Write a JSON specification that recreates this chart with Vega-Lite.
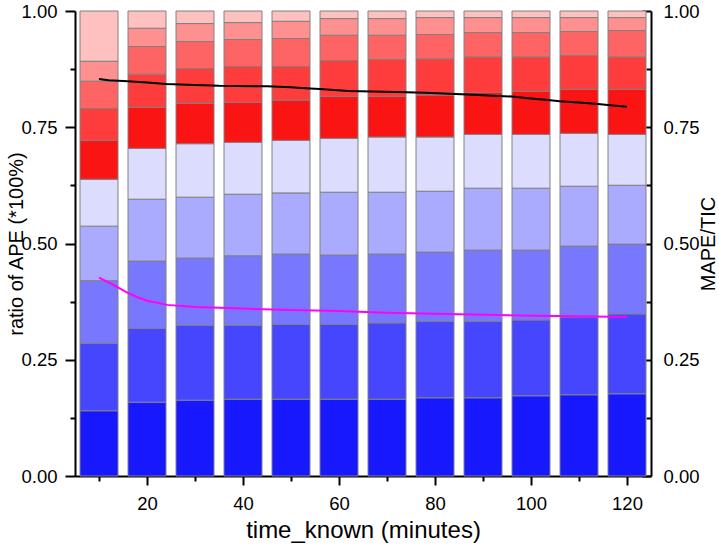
{
  "$schema": "https://vega.github.io/schema/vega-lite/v6.json",
  "width": 576,
  "height": 465,
  "autosize": {"type": "none"},
  "padding": {"left": 75, "top": 11, "right": 68, "bottom": 69},
  "background": "white",
  "config": {
    "view": {"stroke": null},
    "axis": {
      "grid": false,
      "domainColor": "black",
      "domainWidth": 2,
      "tickColor": "black",
      "tickWidth": 2,
      "labelFont": "Liberation Sans",
      "labelFontSize": 18.5,
      "labelColor": "black",
      "titleFont": "Liberation Sans",
      "titleColor": "black",
      "titleFontWeight": "normal",
      "labelFlush": false,
      "labelOverlap": false,
      "labelBound": false
    }
  },
  "datasets": {
    "bars": [
      {"time":10,"k":1,"ratio":0.1403},{"time":10,"k":2,"ratio":0.1451},{"time":10,"k":3,"ratio":0.1346},{"time":10,"k":4,"ratio":0.1173},{"time":10,"k":5,"ratio":0.1009},{"time":10,"k":6,"ratio":0.0837},{"time":10,"k":7,"ratio":0.0687},{"time":10,"k":8,"ratio":0.0584},{"time":10,"k":9,"ratio":0.0430},{"time":10,"k":10,"ratio":0.1080},
      {"time":20,"k":1,"ratio":0.1588},{"time":20,"k":2,"ratio":0.1588},{"time":20,"k":3,"ratio":0.1446},{"time":20,"k":4,"ratio":0.1331},{"time":20,"k":5,"ratio":0.1094},{"time":20,"k":6,"ratio":0.0880},{"time":20,"k":7,"ratio":0.0715},{"time":20,"k":8,"ratio":0.0594},{"time":20,"k":9,"ratio":0.0393},{"time":20,"k":10,"ratio":0.0371},
      {"time":30,"k":1,"ratio":0.1631},{"time":30,"k":2,"ratio":0.1609},{"time":30,"k":3,"ratio":0.1447},{"time":30,"k":4,"ratio":0.1309},{"time":30,"k":5,"ratio":0.1150},{"time":30,"k":6,"ratio":0.0867},{"time":30,"k":7,"ratio":0.0751},{"time":30,"k":8,"ratio":0.0579},{"time":30,"k":9,"ratio":0.0387},{"time":30,"k":10,"ratio":0.0270},
      {"time":40,"k":1,"ratio":0.1652},{"time":40,"k":2,"ratio":0.1588},{"time":40,"k":3,"ratio":0.1496},{"time":40,"k":4,"ratio":0.1324},{"time":40,"k":5,"ratio":0.1116},{"time":40,"k":6,"ratio":0.0858},{"time":40,"k":7,"ratio":0.0773},{"time":40,"k":8,"ratio":0.0579},{"time":40,"k":9,"ratio":0.0365},{"time":40,"k":10,"ratio":0.0249},
      {"time":50,"k":1,"ratio":0.1652},{"time":50,"k":2,"ratio":0.1610},{"time":50,"k":3,"ratio":0.1511},{"time":50,"k":4,"ratio":0.1315},{"time":50,"k":5,"ratio":0.1131},{"time":50,"k":6,"ratio":0.0865},{"time":50,"k":7,"ratio":0.0723},{"time":50,"k":8,"ratio":0.0601},{"time":50,"k":9,"ratio":0.0371},{"time":50,"k":10,"ratio":0.0221},
      {"time":60,"k":1,"ratio":0.1652},{"time":60,"k":2,"ratio":0.1610},{"time":60,"k":3,"ratio":0.1489},{"time":60,"k":4,"ratio":0.1352},{"time":60,"k":5,"ratio":0.1159},{"time":60,"k":6,"ratio":0.0901},{"time":60,"k":7,"ratio":0.0773},{"time":60,"k":8,"ratio":0.0543},{"time":60,"k":9,"ratio":0.0358},{"time":60,"k":10,"ratio":0.0163},
      {"time":70,"k":1,"ratio":0.1652},{"time":70,"k":2,"ratio":0.1640},{"time":70,"k":3,"ratio":0.1481},{"time":70,"k":4,"ratio":0.1330},{"time":70,"k":5,"ratio":0.1187},{"time":70,"k":6,"ratio":0.0873},{"time":70,"k":7,"ratio":0.0794},{"time":70,"k":8,"ratio":0.0522},{"time":70,"k":9,"ratio":0.0358},{"time":70,"k":10,"ratio":0.0163},
      {"time":80,"k":1,"ratio":0.1682},{"time":80,"k":2,"ratio":0.1644},{"time":80,"k":3,"ratio":0.1489},{"time":80,"k":4,"ratio":0.1309},{"time":80,"k":5,"ratio":0.1166},{"time":80,"k":6,"ratio":0.0901},{"time":80,"k":7,"ratio":0.0779},{"time":80,"k":8,"ratio":0.0524},{"time":80,"k":9,"ratio":0.0364},{"time":80,"k":10,"ratio":0.0142},
      {"time":90,"k":1,"ratio":0.1682},{"time":90,"k":2,"ratio":0.1644},{"time":90,"k":3,"ratio":0.1532},{"time":90,"k":4,"ratio":0.1331},{"time":90,"k":5,"ratio":0.1159},{"time":90,"k":6,"ratio":0.0901},{"time":90,"k":7,"ratio":0.0764},{"time":90,"k":8,"ratio":0.0523},{"time":90,"k":9,"ratio":0.0322},{"time":90,"k":10,"ratio":0.0142},
      {"time":100,"k":1,"ratio":0.1725},{"time":100,"k":2,"ratio":0.1631},{"time":100,"k":3,"ratio":0.1502},{"time":100,"k":4,"ratio":0.1331},{"time":100,"k":5,"ratio":0.1159},{"time":100,"k":6,"ratio":0.0922},{"time":100,"k":7,"ratio":0.0743},{"time":100,"k":8,"ratio":0.0523},{"time":100,"k":9,"ratio":0.0322},{"time":100,"k":10,"ratio":0.0142},
      {"time":110,"k":1,"ratio":0.1747},{"time":110,"k":2,"ratio":0.1673},{"time":110,"k":3,"ratio":0.1524},{"time":110,"k":4,"ratio":0.1288},{"time":110,"k":5,"ratio":0.1137},{"time":110,"k":6,"ratio":0.0944},{"time":110,"k":7,"ratio":0.0730},{"time":110,"k":8,"ratio":0.0515},{"time":110,"k":9,"ratio":0.0300},{"time":110,"k":10,"ratio":0.0142},
      {"time":120,"k":1,"ratio":0.1768},{"time":120,"k":2,"ratio":0.1717},{"time":120,"k":3,"ratio":0.1502},{"time":120,"k":4,"ratio":0.1266},{"time":120,"k":5,"ratio":0.1095},{"time":120,"k":6,"ratio":0.0965},{"time":120,"k":7,"ratio":0.0700},{"time":120,"k":8,"ratio":0.0567},{"time":120,"k":9,"ratio":0.0278},{"time":120,"k":10,"ratio":0.0142}
    ],
    "line_black": [
      {"time":10,"value":0.854},{"time":12,"value":0.851},{"time":16,"value":0.849},{"time":20,"value":0.846},{"time":24,"value":0.843},{"time":30,"value":0.841},{"time":35,"value":0.839},{"time":45,"value":0.838},{"time":50,"value":0.836},{"time":53,"value":0.834},{"time":56,"value":0.832},{"time":59,"value":0.830},{"time":62,"value":0.828},{"time":67,"value":0.827},{"time":72,"value":0.826},{"time":78,"value":0.824},{"time":83,"value":0.822},{"time":88,"value":0.820},{"time":92,"value":0.818},{"time":96,"value":0.816},{"time":100,"value":0.812},{"time":103,"value":0.809},{"time":106,"value":0.806},{"time":110,"value":0.803},{"time":114,"value":0.800},{"time":117,"value":0.797},{"time":120,"value":0.794}
    ],
    "line_magenta": [
      {"time":10,"value":0.4265},{"time":13,"value":0.411},{"time":15.8,"value":0.395},{"time":17.9,"value":0.385},{"time":20,"value":0.377},{"time":21.4,"value":0.374},{"time":24.2,"value":0.368},{"time":30,"value":0.3634},{"time":40,"value":0.360},{"time":50,"value":0.357},{"time":60,"value":0.3548},{"time":64,"value":0.353},{"time":70,"value":0.351},{"time":80,"value":0.349},{"time":90,"value":0.347},{"time":100,"value":0.3448},{"time":110,"value":0.3434},{"time":120,"value":0.342}
    ]
  },
  "resolve": {
    "scale": {"x": "shared", "y": "shared"},
    "axis": {"x": "independent", "y": "independent"}
  },
  "layer": [
    {
      "data": {"name": "bars"},
      "mark": {"type": "bar", "width": 38, "stroke": "#808080", "strokeWidth": 1},
      "encoding": {
        "x": {
          "field": "time", "type": "quantitative",
          "scale": {"domain": [5, 125], "nice": false, "zero": false, "padding": 0},
          "axis": {
            "orient": "bottom", "values": [20, 40, 60, 80, 100, 120], "format": "d",
            "tickSize": 9, "labelPadding": 9,
            "title": "time_known (minutes)", "titleFontSize": 24,
            "titleX": 288, "titleY": 61, "titleBaseline": "alphabetic", "titleAlign": "center"
          }
        },
        "y": {
          "field": "ratio", "type": "quantitative", "stack": "zero",
          "scale": {"domain": [0, 1], "nice": false},
          "axis": {
            "orient": "left", "values": [0, 0.25, 0.5, 0.75, 1], "format": ".2f",
            "tickSize": 10, "labelPadding": 8,
            "title": "ratio of APE (*100%)", "titleFontSize": 20, "titleAngle": -90,
            "titleX": -53, "titleY": 232.5, "titleBaseline": "alphabetic", "titleAlign": "center"
          }
        },
        "color": {
          "field": "k", "type": "ordinal",
          "scale": {
            "domain": [1, 2, 3, 4, 5, 6, 7, 8, 9, 10],
            "range": ["#1818ff", "#4646ff", "#7878ff", "#aaaaff", "#dcdcff", "#fa1414", "#ff3c3c", "#ff6464", "#ff9090", "#ffc0c0"]
          },
          "legend": null
        },
        "order": {"field": "k", "type": "quantitative"}
      }
    },
    {
      "data": {"name": "line_black"},
      "mark": {"type": "line", "color": "black", "strokeWidth": 2},
      "encoding": {
        "x": {
          "field": "time", "type": "quantitative",
          "scale": {"domain": [5, 125], "nice": false, "zero": false, "padding": 0},
          "axis": {
            "orient": "bottom", "values": [10, 30, 50, 70, 90, 110],
            "tickSize": 5, "labels": false, "domain": false, "title": null
          }
        },
        "y": {
          "field": "value", "type": "quantitative",
          "scale": {"domain": [0, 1], "nice": false},
          "axis": {
            "orient": "right", "values": [0, 0.25, 0.5, 0.75, 1], "format": ".2f",
            "tickSize": -9, "labelPadding": 21,
            "title": "MAPE/TIC", "titleFontSize": 20, "titleAngle": -90,
            "titleX": 63, "titleY": 232.5, "titleBaseline": "alphabetic", "titleAlign": "center"
          }
        }
      }
    },
    {
      "data": {"name": "line_magenta"},
      "mark": {"type": "line", "color": "#ff00ff", "strokeWidth": 2},
      "encoding": {
        "x": {
          "field": "time", "type": "quantitative",
          "scale": {"domain": [5, 125], "nice": false, "zero": false, "padding": 0},
          "axis": null
        },
        "y": {
          "field": "value", "type": "quantitative",
          "scale": {"domain": [0, 1], "nice": false},
          "axis": {
            "orient": "left", "values": [0.125, 0.375, 0.625, 0.875],
            "tickSize": 5, "labels": false, "domain": false, "title": null
          }
        }
      }
    },
    {
      "data": {"name": "line_magenta"},
      "mark": {"type": "line", "color": "#ff00ff", "strokeWidth": 2, "strokeOpacity": 0},
      "encoding": {
        "x": {
          "field": "time", "type": "quantitative",
          "scale": {"domain": [5, 125], "nice": false, "zero": false, "padding": 0},
          "axis": null
        },
        "y": {
          "field": "value", "type": "quantitative",
          "scale": {"domain": [0, 1], "nice": false},
          "axis": {
            "orient": "right", "values": [0.125, 0.375, 0.625, 0.875],
            "tickSize": -5, "labels": false, "domain": false, "title": null
          }
        }
      }
    }
  ]
}
